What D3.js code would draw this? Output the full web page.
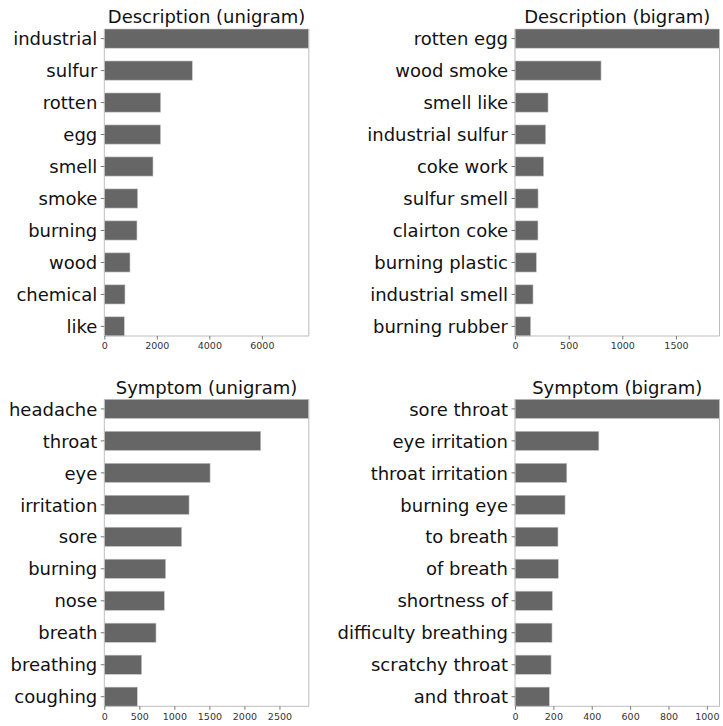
<!DOCTYPE html>
<html>
<head>
<meta charset="utf-8">
<script src="https://cdn.jsdelivr.net/npm/d3@7"></script>
<style>
  body { margin: 0; background: #fff; }
  svg { display: block; }
</style>
</head>
<body>
<svg id="chart" width="723" height="726"></svg>
<script>
const svg = d3.select("#chart");

/*
/   Data
*/

const descUniWords = ["industrial", "sulfur", "rotten", "egg", "smell", "smoke", "burning", "wood", "chemical", "like"];
const descUniCounts = [7787, 3352, 2146, 2140, 1854, 1270, 1244, 978, 787, 762];
const descUniTicks = [0, 2000, 4000, 6000];

const descBiWords = ["rotten egg", "wood smoke", "smell like", "industrial sulfur", "coke work", "sulfur smell", "clairton coke", "burning plastic", "industrial smell", "burning rubber"];
const descBiCounts = [1906, 802, 308, 286, 267, 215, 214, 199, 168, 146];
const descBiTicks = [0, 500, 1000, 1500];

const sympUniWords = ["headache", "throat", "eye", "irritation", "sore", "burning", "nose", "breath", "breathing", "coughing"];
const sympUniCounts = [2919, 2233, 1510, 1210, 1105, 876, 857, 738, 533, 471];
const sympUniTicks = [0, 500, 1000, 1500, 2000, 2500];

const sympBiWords = ["sore throat", "eye irritation", "throat irritation", "burning eye", "to breath", "of breath", "shortness of", "difficulty breathing", "scratchy throat", "and throat"];
const sympBiCounts = [1066, 437, 270, 261, 224, 226, 195, 193, 188, 179];
const sympBiTicks = [0, 200, 400, 600, 800, 1000];

/*
/   Panel layout
*/

const panels = [
    { title: "Description (unigram)", words: descUniWords, counts: descUniCounts, ticks: descUniTicks, left: 104.3, top: 29 },
    { title: "Description (bigram)",  words: descBiWords,  counts: descBiCounts,  ticks: descBiTicks,  left: 515,   top: 29 },
    { title: "Symptom (unigram)",     words: sympUniWords, counts: sympUniCounts, ticks: sympUniTicks, left: 104.3, top: 399.3 },
    { title: "Symptom (bigram)",      words: sympBiWords,  counts: sympBiCounts,  ticks: sympBiTicks,  left: 515,   top: 399.3 }
];

const panelWidth = 204.5;
const panelHeight = 307;
const barColor = "#666666";
const spineColor = "#bdbdbd";

function drawPanel(p)
{
    const g = svg.append("g").attr("transform", `translate(${p.left},${p.top})`);

    const x = d3.scaleLinear()
        .domain([0, d3.max(p.counts)])
        .range([0, panelWidth]);

    const y = d3.scaleBand()
        .domain(p.words)
        .range([0, panelHeight])
        .paddingInner(0.4)
        .paddingOuter(0);

    // bars
    g.selectAll("rect.bar")
        .data(p.words)
        .join("rect")
        .attr("class", "bar")
        .attr("x", 0)
        .attr("y", (d) => y(d))
        .attr("width", (d, i) => x(p.counts[i]))
        .attr("height", y.bandwidth())
        .attr("fill", barColor)
        .attr("stroke", "#c8c8c8")
        .attr("stroke-width", 0.6);

    // frame (right + bottom + left spines)
    g.append("path")
        .attr("d", `M0,0V${panelHeight}H${panelWidth}V0`)
        .attr("fill", "none")
        .attr("stroke", spineColor)
        .attr("stroke-width", 1);

    // y axis: words
    const yAxis = g.append("g")
        .call(d3.axisLeft(y).tickSize(3.5).tickPadding(3.5));
    yAxis.select(".domain").remove();
    yAxis.selectAll(".tick line").attr("stroke", "#555").attr("stroke-width", 0.8);
    yAxis.selectAll(".tick text")
        .attr("dy", "0.37em")
        .attr("fill", "#111")
        .style("font-family", "DejaVu Sans")
        .style("font-size", "18px");

    // x axis: counts
    const xAxis = g.append("g")
        .attr("transform", `translate(0,${panelHeight})`)
        .call(d3.axisBottom(x).tickValues(p.ticks).tickFormat(d3.format("d")).tickSize(3.5).tickPadding(3));
    xAxis.select(".domain").remove();
    xAxis.selectAll(".tick line").attr("stroke", "#555").attr("stroke-width", 0.8);
    xAxis.selectAll(".tick text")
        .attr("fill", "#333")
        .style("font-family", "DejaVu Sans")
        .style("font-size", "9.5px");

    // title
    g.append("text")
        .attr("x", panelWidth / 2)
        .attr("y", -5.7)
        .attr("text-anchor", "middle")
        .attr("fill", "#111")
        .style("font-family", "DejaVu Sans")
        .style("font-size", "18px")
        .text(p.title);
}

panels.forEach(drawPanel);
</script>
</body>
</html>
